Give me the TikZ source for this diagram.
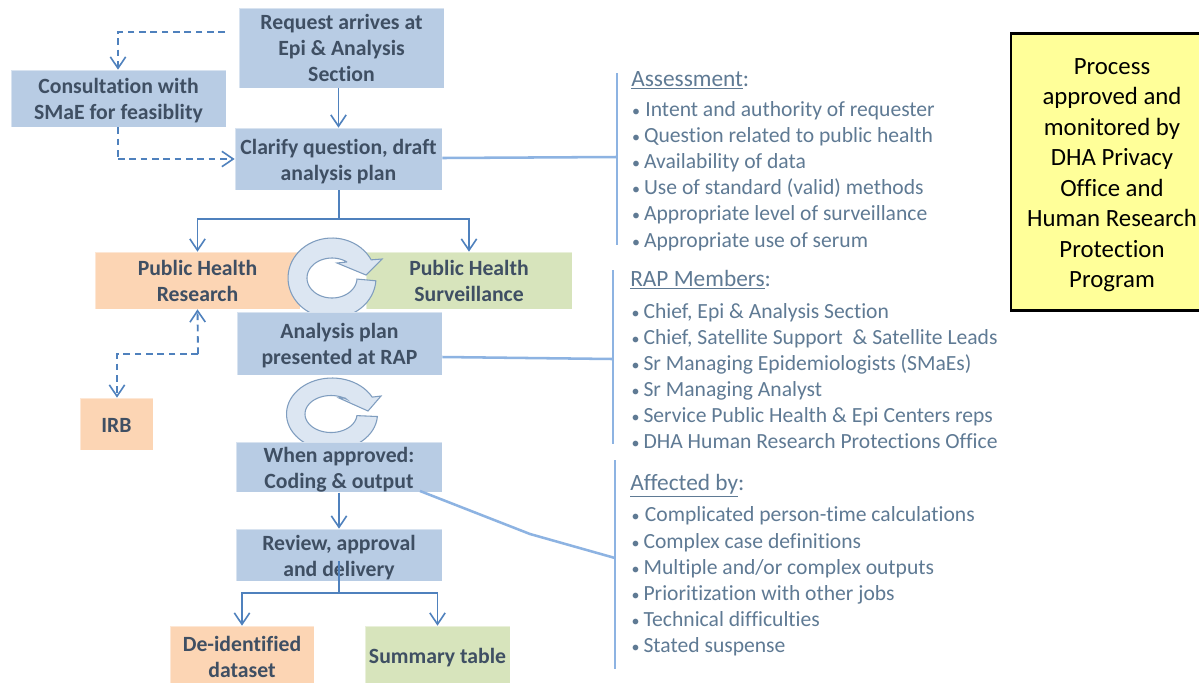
\documentclass[tikz,border=0pt]{standalone}
\usepackage{fontspec}
\setmainfont[Ligatures={NoRequired,NoCommon,NoContextual}]{Carlito}
\usetikzlibrary{arrows.meta,calc}
\definecolor{boxblue}{HTML}{B8CCE4}
\definecolor{boxorange}{HTML}{FCD5B4}
\definecolor{boxgreen}{HTML}{D7E4BC}
\definecolor{boxtext}{HTML}{3F4F63}
\definecolor{listtext}{HTML}{5F7A94}
\definecolor{lineblue}{HTML}{4F81BD}
\definecolor{lightline}{HTML}{8DB3E2}
\definecolor{cyclefill}{HTML}{DCE6F2}
\definecolor{cycleline}{HTML}{7F9DBF}
\definecolor{noteyellow}{HTML}{FFFF99}
\newcommand{\bul}{{\fontsize{12}{12}\selectfont\textbullet}}
\newcommand{\li}[1]{\hbox to 9.6pt{\hss\bul\hskip 3pt}#1}
\newcommand{\lione}[1]{\hbox to 10.6pt{\hss\bul\hskip 4pt}#1}
\newcommand{\dn}{\rule{0pt}{15pt}}
\tikzset{
  x=0.75pt,y=-0.75pt,
  boxbase/.style={align=center,inner sep=0pt,font=\fontsize{16.3}{19.5}\selectfont\bfseries,text=boxtext,draw=white,draw opacity=.45,line width=.5pt},
  bluebox/.style={boxbase,fill=boxblue},
  orangebox/.style={boxbase,fill=boxorange},
  greenbox/.style={boxbase,fill=boxgreen},
  flow/.style={draw=lineblue,line width=1.4pt,-{Straight Barb[length=8.5pt,width=11.5pt,line width=1.2pt]}},
  flowplain/.style={draw=lineblue,line width=1.4pt},
  dashflow/.style={flow,dash pattern=on 5pt off 3.5pt},
  dashplain/.style={flowplain,dash pattern=on 5pt off 3.5pt},
  bracket/.style={draw=lightline,line width=1.9pt},
  listhead/.style={anchor=west,inner sep=0pt,font=\fontsize{17.5}{20}\selectfont,text=listtext},
  listbody/.style={anchor=west,inner sep=0pt,align=left,font=\fontsize{16.2}{19.6}\selectfont,text=listtext},
  cycle/.style={fill=cyclefill,draw=cycleline,line width=.8pt},
  notebox/.style={fill=noteyellow,draw=black,line width=2.2pt,align=center,inner sep=0pt,font=\fontsize{18.6}{22.9}\selectfont,text=black}
}
\begin{document}
\begin{tikzpicture}
\useasboundingbox (0,0) rectangle (1199,683);
\fill[white] (0,0) rectangle (1199,683);
% note
\node[notebox,minimum width=151.5pt,minimum height=207.5pt] (note) at (1112,172) {\rule{0pt}{16.5pt}Process\\approved and\\monitored by\\DHA Privacy\\Office and\\Human Research\\Protection\\Program};
% boxes
\node[bluebox,minimum width=153.75pt,minimum height=60pt] (request) at (341.5,48) {Request arrives at\\Epi \& Analysis\\Section};
\node[bluebox,minimum width=161.25pt,minimum height=42.75pt] (consult) at (118.5,98.5) {\rule{0pt}{14pt}Consultation with\\SMaE for feasiblity};
\node[bluebox,minimum width=155.25pt,minimum height=46.5pt] (clarify) at (338.5,159) {\dn Clarify question, draft\\analysis plan};
\node[orangebox,minimum width=153.75pt,minimum height=42.75pt] (research) at (197.5,280.5) {Public Health\\Research};
\node[greenbox,minimum width=154.5pt,minimum height=42.75pt] (surveil) at (469,280.5) {Public Health\\Surveillance};
% first cycle
\path[cycle] plot[domain=4:333,samples=60] ({332+44*cos(\x)},{278+40*sin(\x)})
  -- (382,259) -- (366,275) -- (337,263) -- (347,262)
  -- plot[domain=307:3,samples=60] ({332+25*cos(\x)},{278+20*sin(\x)}) -- cycle;
\node[bluebox,minimum width=153.75pt,minimum height=47.25pt] (rap) at (339.5,343.5) {\dn Analysis plan\\presented at RAP};
\node[orangebox,minimum width=54.75pt,minimum height=39pt] (irb) at (116.5,424) {\rule{0pt}{13pt}IRB};
% second cycle
\path[cycle] plot[domain=4:332,samples=60] ({332+45.5*cos(\x)},{414+36*sin(\x)})
  -- (381,396) -- (368,411) -- (339,398) -- (345,398)
  -- plot[domain=306:5,samples=60] ({331+26*cos(\x)},{414+18.5*sin(\x)}) -- cycle;
\node[bluebox,minimum width=154.5pt,minimum height=37.5pt] (coding) at (339,467) {\rule{0pt}{15.5pt}When approved:\\Coding \& output};
\node[bluebox,minimum width=154.5pt,minimum height=39pt] (review) at (339,555) {\dn Review, approval\\and delivery};
\node[orangebox,minimum width=108pt,minimum height=42.75pt] (deid) at (242,654.5) {\dn De-identified\\dataset};
\node[greenbox,minimum width=108.75pt,minimum height=42.75pt] (summary) at (437.5,654.5) {\rule{0pt}{16pt}Summary table};
% free ends
\coordinate (reqout) at (225,32);
\coordinate (consultcorner) at (118,32);
\coordinate (consultdown) at (118,159);
\coordinate (split) at (339,219);
\coordinate (irbcorner) at (198,354);
\coordinate (irbleft) at (117,354);
\coordinate (revstart) at (339,561);
\coordinate (revsplit) at (339,593);
\coordinate (assessbar) at (617,157);
\coordinate (rapbar) at (613,359);
\coordinate (affectstart) at (420,491);
\coordinate (affectbend) at (530,534);
\coordinate (affectbar) at (615,558);
\coordinate (barAtop) at (617,73);
\coordinate (barAbot) at (617,245);
\coordinate (barBtop) at (613,270);
\coordinate (barBbot) at (613,444);
\coordinate (barCtop) at (615,460);
\coordinate (barCbot) at (615,669);
% connectors
\draw[dashflow] (reqout) -- (consultcorner) -- (consult.north -| consultcorner);
\draw[flow] (clarify.north |- request.south) -- (clarify.north);
\draw[dashplain] (consult.south -| consultdown) -- (consultdown);
\draw[dashflow] (consultdown) -- (clarify.west |- consultdown);
\draw[flowplain] (clarify.south -| split) -- (split);
\draw[flow] (split) -- (split -| research.north) -- (research.north);
\draw[flow] (split) -- (split -| surveil.north) -- (surveil.north);
\draw[dashflow] (irbcorner) -- (research.south);
\draw[dashflow] (irbcorner) -- (irbleft) -- (irb.north -| irbleft);
\draw[flow] (coding.south) -- (review.north);
\draw[flowplain] (revstart) -- (revsplit);
\draw[flow] (revsplit) -- (revsplit -| deid.north) -- (deid.north);
\draw[flow] (revsplit) -- (revsplit -| summary.north) -- (summary.north);
% brackets
\draw[bracket] (barAtop) -- (barAbot);
\draw[bracket] (barBtop) -- (barBbot);
\draw[bracket] (barCtop) -- (barCbot);
\draw[bracket] (clarify.east |- 0,158) -- (assessbar);
\draw[bracket] (rap.east |- 0,357) -- (rapbar);
\draw[bracket] (affectstart) -- (affectbend) -- (affectbar);
% lists
\node[listhead] (h1) at (631,80.5) {\underline{Assessment}:};
\node[listbody] (l1) at (631,176) {\lione{Intent and authority of requester}\\\li{Question related to public health}\\\li{Availability of data}\\\li{Use of standard (valid) methods}\\\li{Appropriate level of surveillance}\\\li{Appropriate use of serum}};
\node[listhead] (h2) at (630,279.5) {\underline{RAP Members}:};
\node[listbody] (l2) at (630.5,376) {\li{Chief, Epi \& Analysis Section}\\\li{Chief, Satellite Support\ \ \& Satellite Leads}\\\li{Sr Managing Epidemiologists (SMaEs)}\\\li{Sr Managing Analyst}\\\li{Service Public Health \& Epi Centers reps}\\\li{DHA Human Research Protections Office}};
\node[listhead] (h3) at (630,485.5) {\underline{Affected by}:};
\node[listbody] (l3) at (630.5,581.5) {\lione{Complicated person-time calculations}\\\li{Complex case definitions}\\\li{Multiple and/or complex outputs}\\\li{Prioritization with other jobs}\\\li{Technical difficulties}\\\li{Stated suspense}};
\end{tikzpicture}
\end{document}
